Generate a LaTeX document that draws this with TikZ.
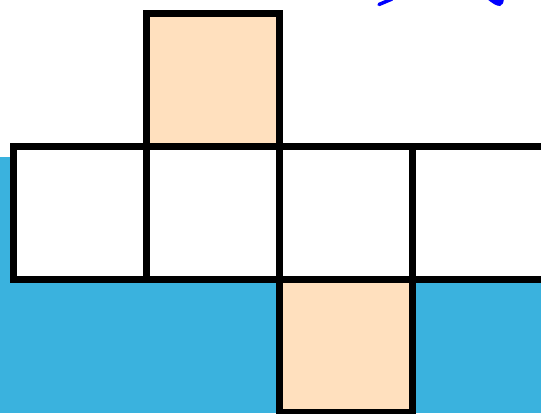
\documentclass[tikz,border=0pt]{standalone}
\definecolor{skyblue}{RGB}{58,178,222}
\definecolor{peach}{RGB}{255,224,190}
\definecolor{inkblue}{RGB}{0,0,255}
\begin{document}
\begin{tikzpicture}[x=1pt,y=-1pt,
  cell/.style={draw=black,line width=7pt,line join=miter,minimum size=133pt,inner sep=0pt,fill=white},
  pcell/.style={cell,fill=peach}]
\useasboundingbox (0,0) rectangle (541,413);
\fill[skyblue] (0,157) rectangle (541,413);
\node[cell] (c1) at (80,212.5) {};
\node[cell] (c2) at (213,212.5) {};
\node[cell] (c3) at (346,212.5) {};
\node[cell] (c4) at (479,212.5) {};
\node[pcell] (top) at (213,79.5) {};
\node[pcell] (bot) at (346,345.5) {};
\draw[inkblue,line width=3.5pt,line cap=round] (379,4.5) -- (392,-1);
\fill[inkblue] (487,-1) .. controls (492,3) and (496,6) .. (500,6) .. controls (503,4) .. (504,-1) -- cycle;
\end{tikzpicture}
\end{document}
